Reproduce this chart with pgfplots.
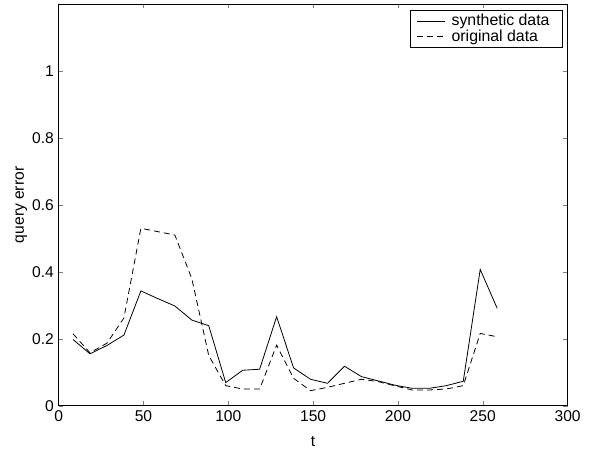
\documentclass[border=0pt]{standalone}
\usepackage{pgfplots}
\pgfplotsset{compat=1.18}
\usepackage{fontspec}
\setmainfont{Liberation Sans}
\begin{document}
\begin{tikzpicture}[x=1pt,y=1pt]
\path[use as bounding box] (-43.95,-33.98) rectangle (401.55,304.3);
\begin{axis}[
  at={(0,0)}, anchor=south west,
  scale only axis,
  width=381.75pt, height=301.3pt,
  xmin=0, xmax=300, ymin=0, ymax=1.2,
  xtick={0,50,...,300}, ytick={0,0.2,0.4,0.6,0.8,1},
  tick align=inside, tick pos=both,
  major tick length=3.3pt,
  /pgf/number format/assume math mode=true,
  font=\fontsize{11.7}{13}\selectfont,
  tick label style={font=\fontsize{11.7}{13}\selectfont},
  xticklabel style={yshift=0pt},
  xlabel={t}, ylabel={query error},
  xlabel style={yshift=-4pt},
  ylabel style={yshift=-3pt},
  axis line style={line width=0.6pt},
  legend style={at={(axis description cs:0.9915,0.985)}, anchor=north east,
    draw=black, line width=0.6pt, font=\fontsize{11.9}{13}\selectfont,
    inner xsep=5pt, inner ysep=1pt, row sep=-2.5pt,
    nodes={inner xsep=5pt}},
  legend cell align=left,
  legend image code/.code={\draw[#1] (0cm,0cm) -- (0.72cm,0cm);},
]
\addplot[black, line width=0.6pt] coordinates {
(8.5,0.198) (18.5,0.155) (28.5,0.180) (38.5,0.211) (48.5,0.343) (58.5,0.320)
(68.5,0.298) (78.5,0.256) (88.5,0.239) (98.5,0.069) (108.5,0.106) (118.5,0.109)
(128.5,0.266) (138.5,0.113) (148.5,0.079) (158.5,0.067) (168.5,0.118) (178.5,0.087)
(188.5,0.074) (198.5,0.061) (208.5,0.052) (218.5,0.052) (228.5,0.060) (238.5,0.073)
(248.5,0.407) (258.5,0.291)
};
\addlegendentry{synthetic data}
\addplot[black, line width=0.6pt, dash pattern=on 4.5pt off 3pt] coordinates {
(8.5,0.215) (18.5,0.158) (28.5,0.187) (38.5,0.262) (48.5,0.530) (58.5,0.520)
(68.5,0.510) (78.5,0.380) (88.5,0.150) (98.5,0.060) (108.5,0.050) (118.5,0.050)
(128.5,0.181) (138.5,0.082) (148.5,0.045) (158.5,0.055) (168.5,0.067) (178.5,0.079)
(188.5,0.072) (198.5,0.059) (208.5,0.047) (218.5,0.047) (228.5,0.050) (238.5,0.060)
(248.5,0.216) (258.5,0.206)
};
\addlegendentry{original data}
\end{axis}
\end{tikzpicture}
\end{document}
